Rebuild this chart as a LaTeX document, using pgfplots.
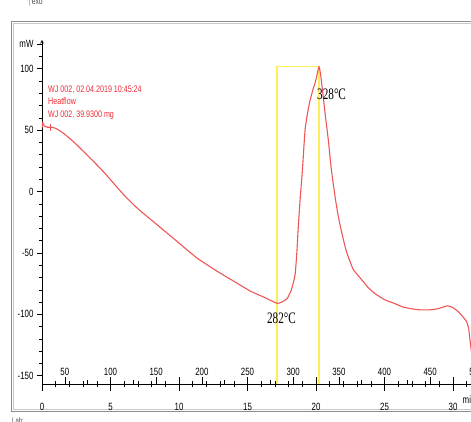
\documentclass[border=0pt]{standalone}
\usepackage{pgfplots}
\pgfplotsset{compat=1.18}
\usepackage{fontspec}
\setmainfont{Liberation Sans}
\newfontfamily\narrow[FakeStretch=0.75]{Liberation Sans}
\newfontfamily\tnarrow[FakeStretch=0.7]{Liberation Serif}
\definecolor{curve}{RGB}{240,85,85}
\definecolor{txtred}{RGB}{235,45,55}
\definecolor{boxyel}{RGB}{255,238,90}
\definecolor{frameout}{RGB}{140,140,140}
\definecolor{framein}{RGB}{200,200,200}

\pgfplotsset{
  dscbase/.style={
    at={(0,0)}, anchor=south west, scale only axis,
    width=438.4pt, height=344.2pt,
    xmin=0, xmax=32, ymin=-156.7, ymax=123.6,
    axis line style={-, black, line width=0.7pt},
    tick style={black, line width=0.6pt},
    tick label style={font=\narrow\fontsize{10.5}{12}\selectfont},
    /pgf/number format/assume math mode=true,
    clip=true,
  },
}

\begin{document}
\begin{tikzpicture}[x=1pt,y=1pt]
% frame of the screenshot
\draw[frameout, line width=1pt] (-30,-27) rectangle (431,362);
\draw[framein, line width=0.8pt] (-28.8,-25.8) rectangle (429.8,360.8);

% curve, box and y axis (time in min, heat flow in mW)
\begin{axis}[dscbase, name=ax,
    axis y line=left, axis x line=none,
    ytick={-150,-100,-50,0,50,100},
    extra y ticks={120}, extra y tick labels={mW},
    minor ytick={-150,-140,...,120},
    ytick align=outside,
    major tick length=5pt, minor tick length=3pt,
  ]
  \addplot[boxyel, line width=1.1pt] coordinates {
    (17.15,-156.7) (17.15,101.6) (20.22,101.6) (20.22,-156.7)
  };
  \addplot[curve, line width=1.1pt, smooth, tension=0.3] coordinates {
    (0.00,51.5) (0.06,56) (0.16,53.5) (0.40,52.5) (0.65,52.5) (1.0,51.5)
    (1.5,48) (2.0,43.5) (2.5,38.5) (3.0,33) (3.5,27.5) (4.5,16) (5.9,-1.8)
    (7.0,-14) (8.4,-27) (9.8,-40) (11.3,-54) (12.8,-65) (14.0,-73)
    (15.2,-81) (16.2,-86) (17.15,-91) (17.5,-90) (17.9,-87) (18.2,-80)
    (18.47,-68) (18.6,-50) (18.7,-30) (18.85,-5) (19.0,16) (19.2,50)
    (19.4,65) (19.56,74) (19.8,84) (19.95,89) (20.22,101.6) (20.35,94)
    (20.5,80) (20.7,60) (20.9,42) (21.1,20) (21.25,7) (21.5,-12)
    (21.75,-27) (22.2,-48) (22.7,-63) (23.2,-70) (23.8,-78) (24.3,-83)
    (25.0,-88) (25.7,-91) (26.35,-94) (27.0,-95.5) (27.6,-96.3)
    (28.3,-96.3) (28.9,-95.4) (29.3,-94) (29.6,-93) (30.0,-94.5)
    (30.4,-98) (30.8,-103) (31.0,-106) (31.15,-112) (31.25,-122) (31.4,-135)
  };
  \addplot[only marks, mark=+, mark size=3.5pt, curve, line width=0.8pt] coordinates {(0.6,52.5)};
\end{axis}

% time axis (min)
\begin{axis}[dscbase,
    axis x line=bottom, axis y line=none,
    xtick={0,5,...,30}, minor xtick={0,1,...,32},
    xtick align=center,
    major tick length=14pt, minor tick length=6pt,
    xticklabel style={anchor=north, yshift=-9pt},
  ]
  \addplot[draw=none] coordinates {(0,0)};
\end{axis}

% temperature axis (degC), 15 K/min from 25 degC
\begin{axis}[dscbase, xmin=25, xmax=505,
    axis x line=bottom, axis y line=none,
    xtick={50,100,...,500}, minor xtick={75,125,...,475},
    xtick align=inside,
    major tick length=7pt, minor tick length=4pt,
    xticklabel style={anchor=south, yshift=5pt},
  ]
  \addplot[draw=none] coordinates {(100,0)};
\end{axis}

% texts
\node[anchor=base west, inner sep=0, font=\narrow\fontsize{10.5}{12}\selectfont] at (420.5,-19.5) {min};
\begin{scope}[every node/.style={anchor=base west, inner sep=0, text=txtred,
    font=\narrow\fontsize{9.5}{11}\selectfont}]
  \node at (6,291) {WJ 002, 02.04.2019 10:45:24};
  \node at (6,279) {Heatflow};
  \node at (6,266) {WJ 002, 39.9300 mg};
\end{scope}
\node[anchor=base, inner sep=0, font=\tnarrow\fontsize{16}{18}\selectfont] at (239.5,61) {282°C};
\node[anchor=base west, inner sep=0, font=\tnarrow\fontsize{16}{18}\selectfont] at (275,284) {328°C};
\node[anchor=base west, inner sep=0, text=gray!60!black, font=\narrow\fontsize{9}{10}\selectfont] at (-15,379) {$\uparrow$exo};
\node[anchor=north west, inner sep=0, text=gray!60!black, font=\narrow\fontsize{8}{9}\selectfont] at (-30,-33) {Lab: };

\pgfresetboundingbox
\useasboundingbox (-42,-37) rectangle (429,384);
\end{tikzpicture}
\end{document}
